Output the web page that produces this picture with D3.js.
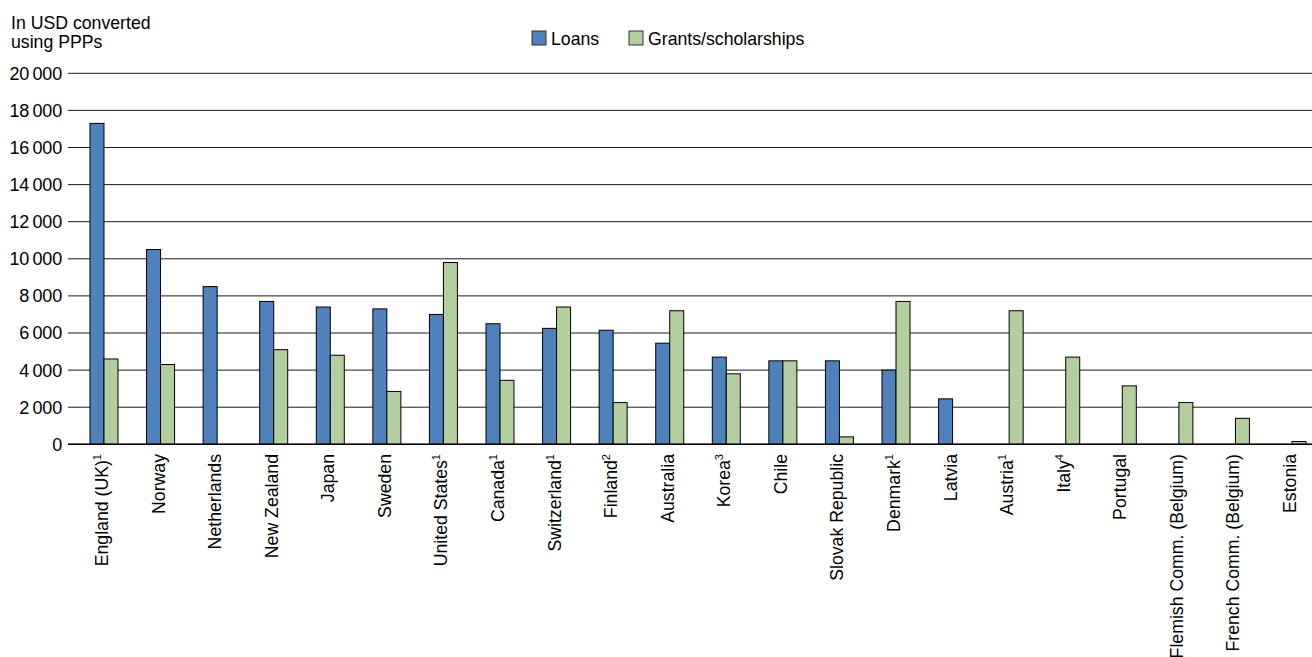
<!DOCTYPE html>
<html lang="en">
<head>
	<meta charset="UTF-8">
	<title>Loans and grants</title>
	<script src="https://d3js.org/d3.v7.min.js"></script>
	<style type="text/css">
		body { margin: 0; background: #fff; }
		text { font-family: "Liberation Sans", Arial, sans-serif; fill: #000; }
		.grid line { stroke: #1a1a1a; stroke-width: 1; }
		.bar { stroke: #000; stroke-width: 1; }
	</style>
</head>
<body>
<script type="text/javascript">

	// data
	var countries = ["England (UK)", "Norway", "Netherlands", "New Zealand", "Japan", "Sweden",
		"United States", "Canada", "Switzerland", "Finland", "Australia", "Korea", "Chile",
		"Slovak Republic", "Denmark", "Latvia", "Austria", "Italy", "Portugal",
		"Flemish Comm. (Belgium)", "French Comm. (Belgium)", "Estonia"];
	var notes = ["1", "", "", "", "", "", "1", "1", "1", "2", "", "3", "", "", "1", "", "1", "4", "", "", "", ""];
	var loans = [17300, 10500, 8500, 7700, 7400, 7300, 7000, 6500, 6250, 6150, 5450, 4700, 4500,
		4500, 4000, 2450, null, null, null, null, null, null];
	var grants = [4600, 4300, null, 5100, 4800, 2850, 9800, 3450, 7400, 2250, 7200, 3800, 4500,
		400, 7700, null, 7200, 4700, 3150, 2250, 1400, 150];
	var series = ["Loans", "Grants/scholarships"];
	var colors = ["#4f81bd", "#b3cf9f"];
	var yTicks = [0, 2000, 4000, 6000, 8000, 10000, 12000, 14000, 16000, 18000, 20000];

	var W = 1312, H = 657;
	var plot = {left: 75.7, right: 1320.3, top: 73.3, bottom: 444.3, gridStart: 68};
	var fs = '17.7px';

	var svg = d3.select('body').append('svg')
		.attr('width', W)
		.attr('height', H);

	var x = d3.scaleBand()
		.domain(countries)
		.range([plot.left, plot.right])
		.padding(0);

	var barW = 14;
	var xs = d3.scaleBand()
		.domain(series)
		.range([x.bandwidth() / 2 - barW, x.bandwidth() / 2 + barW]);

	var y = d3.scaleLinear()
		.domain([0, 20000])
		.range([plot.bottom, plot.top]);

	var fmt = function (d) {
		return d3.format(',')(d).replace(/,/g, '\u2009');
	};

	// gridlines
	var grid = svg.append('g').attr('class', 'grid');
	grid.selectAll('line')
		.data(yTicks)
		.enter().append('line')
		.attr('x1', plot.gridStart)
		.attr('x2', plot.right)
		.attr('y1', function (d) { return y(d); })
		.attr('y2', function (d) { return y(d); });

	// y labels
	svg.append('g').selectAll('text')
		.data(yTicks)
		.enter().append('text')
		.attr('x', 62)
		.attr('y', function (d) { return y(d); })
		.attr('dy', '0.36em')
		.style('text-anchor', 'end')
		.style('font-size', '18px')
		.style('letter-spacing', '-0.2px')
		.text(fmt);

	// bars
	var rows = [loans, grants];
	rows.forEach(function (vals, s) {
		svg.append('g').selectAll('.bar-' + s)
			.data(countries.map(function (c, i) { return {c: c, v: vals[i]}; })
				.filter(function (d) { return d.v != null; }))
			.enter().append('rect')
			.attr('class', 'bar bar-' + s)
			.attr('x', function (d) { return x(d.c) + xs(series[s]); })
			.attr('width', xs.bandwidth())
			.attr('y', function (d) { return y(d.v); })
			.attr('height', function (d) { return y(0) - y(d.v); })
			.style('fill', colors[s]);
	});

	// zero axis line
	svg.append('line')
		.attr('x1', plot.gridStart)
		.attr('x2', plot.right)
		.attr('y1', y(0))
		.attr('y2', y(0))
		.style('stroke', '#000')
		.style('stroke-width', 1.5);

	// x labels
	var lab = svg.append('g').selectAll('text')
		.data(countries)
		.enter().append('text')
		.attr('transform', function (d) {
			return 'translate(' + (x(d) + x.bandwidth() / 2 + 4) + ',454) rotate(-90)';
		})
		.style('text-anchor', 'end')
		.style('font-size', fs);
	lab.append('tspan').text(function (d) { return d; });
	lab.append('tspan')
		.attr('dy', -7)
		.style('font-size', '11px')
		.text(function (d, i) { return notes[i]; });

	// y title
	svg.append('text')
		.attr('x', 11)
		.attr('y', 29)
		.style('font-size', fs)
		.text('In USD converted');
	svg.append('text')
		.attr('x', 11)
		.attr('y', 48)
		.style('font-size', fs)
		.text('using PPPs');

	// legend
	var legendX = [532, 629];
	var legend = svg.append('g').selectAll('.info')
		.data(series)
		.enter().append('g')
		.attr('class', 'info')
		.attr('transform', function (d, i) { return 'translate(' + legendX[i] + ',31)'; });
	legend.append('rect')
		.attr('width', 14)
		.attr('height', 14)
		.style('fill', function (d, i) { return colors[i]; })
		.style('stroke', '#333')
		.style('stroke-width', 1);
	legend.append('text')
		.attr('x', 19)
		.attr('y', 14)
		.style('font-size', fs)
		.text(function (d) { return d; });

</script>
</body>
</html>
